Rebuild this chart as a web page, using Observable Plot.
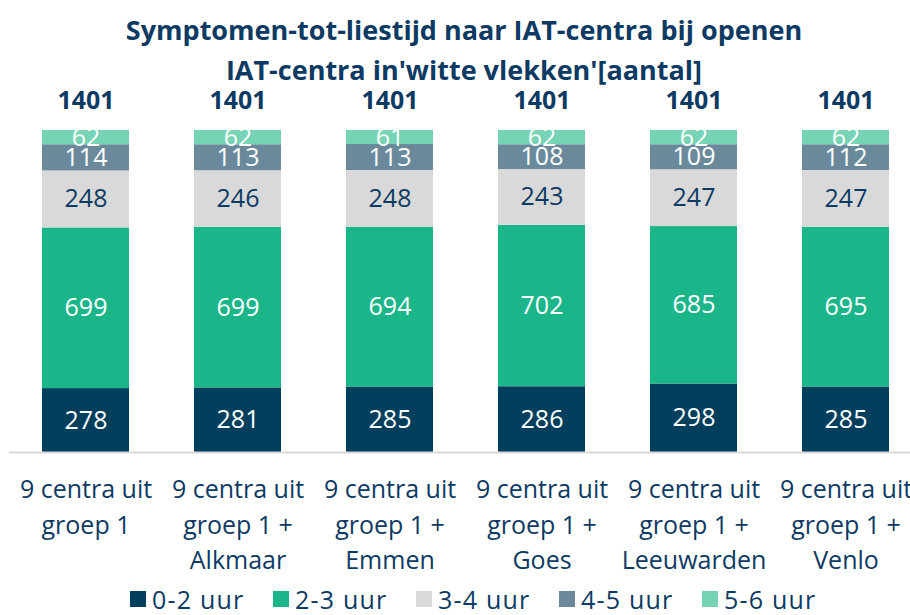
<!DOCTYPE html>
<html><head><meta charset="utf-8">
<script src="https://cdn.jsdelivr.net/npm/d3@7"></script>
<script src="https://cdn.jsdelivr.net/npm/@observablehq/plot@0.6"></script>
<style>
body{margin:0;background:#fff;font-family:"Open Sans",Lato,sans-serif;color:#0d3a63;width:910px;height:615px;overflow:hidden}
#title{font-weight:700;font-size:27px;line-height:40px;text-align:center;padding-top:10px;height:65px;padding-left:18px;position:relative;z-index:1}
#legend{display:flex;justify-content:flex-start;align-items:center;height:28px;font-size:25px;line-height:28px;letter-spacing:1.2px;padding-left:130px;white-space:nowrap}
.it{display:flex;align-items:center;width:143px;flex:none}
.sw{width:16px;height:16px;margin-right:6px;flex:none}
</style></head>
<body>
<div id="title">Symptomen-tot-liestijd naar IAT-centra bij openen<br>IAT-centra in'witte vlekken'[aantal]</div>
<div id="chart"></div>
<div id="legend"></div>
<script>
const categories = ["9 centra uit\ngroep 1","9 centra uit\ngroep 1 +\nAlkmaar","9 centra uit\ngroep 1 +\nEmmen","9 centra uit\ngroep 1 +\nGoes","9 centra uit\ngroep 1 +\nLeeuwarden","9 centra uit\ngroep 1 +\nVenlo"];
const series = ["0-2 uur","2-3 uur","3-4 uur","4-5 uur","5-6 uur"];
const colors = ["#023f5c","#1bb58a","#d9d9d9","#6a8a9c","#77d3b6"];
const labelColors = ["#ffffff","#ffffff","#0d3a63","#ffffff","#ffffff"];
const v0_2 = [278,281,285,286,298,285];
const v2_3 = [699,699,694,702,685,695];
const v3_4 = [248,246,248,243,247,247];
const v4_5 = [114,113,113,108,109,112];
const v5_6 = [62,62,61,62,62,62];
const values = [v0_2,v2_3,v3_4,v4_5,v5_6];

const data = [];
series.forEach((s,i)=>categories.forEach((c,j)=>data.push({cat:c,series:s,value:values[i][j],lc:labelColors[i]})));

const plot = Plot.plot({
  width:910, height:510,
  marginLeft:9, marginRight:0, marginTop:55, marginBottom:133,
  style:{fontFamily:"'Open Sans', Lato, sans-serif", color:"#0d3a63", background:"transparent", overflow:"visible"},
  x:{domain:categories, range:[9,921], paddingInner:0.428, paddingOuter:0.214, axis:null},
  y:{domain:[0,1401], axis:null},
  color:{domain:series, range:colors},
  marks:[
    Plot.barY(data,{x:"cat",y:"value",fill:"series",order:null}),
    Plot.ruleY([0],{stroke:"#d9d9d9",strokeWidth:2}),
    Plot.text(data,Plot.stackY({x:"cat",y:"value",z:"series",order:null,text:d=>String(d.value),fill:"lc",fontSize:25})),
    Plot.text(data,Plot.groupX({y:"sum",text:"sum"},{x:"cat",y:"value",text:"value",dy:-30,fontSize:25,fontWeight:"bold",fill:"#0d3a63"})),
    Plot.text(categories,{x:d=>d,text:d=>d,frameAnchor:"bottom",lineAnchor:"top",dy:20,fontSize:25,lineHeight:1.43,fill:"#0d3a63"})
  ]
});
// totals without thousands separator
plot.querySelectorAll("text").forEach(t=>{ if(t.textContent==="1,401") t.textContent="1401"; });
document.getElementById("chart").append(plot);

const lg = document.getElementById("legend");
series.forEach((s,i)=>{
  const it=document.createElement("div");it.className="it";
  const sw=document.createElement("div");sw.className="sw";sw.style.background=colors[i];
  const t=document.createElement("span");t.textContent=s;
  it.append(sw,t);lg.append(it);
});
</script>
</body></html>
